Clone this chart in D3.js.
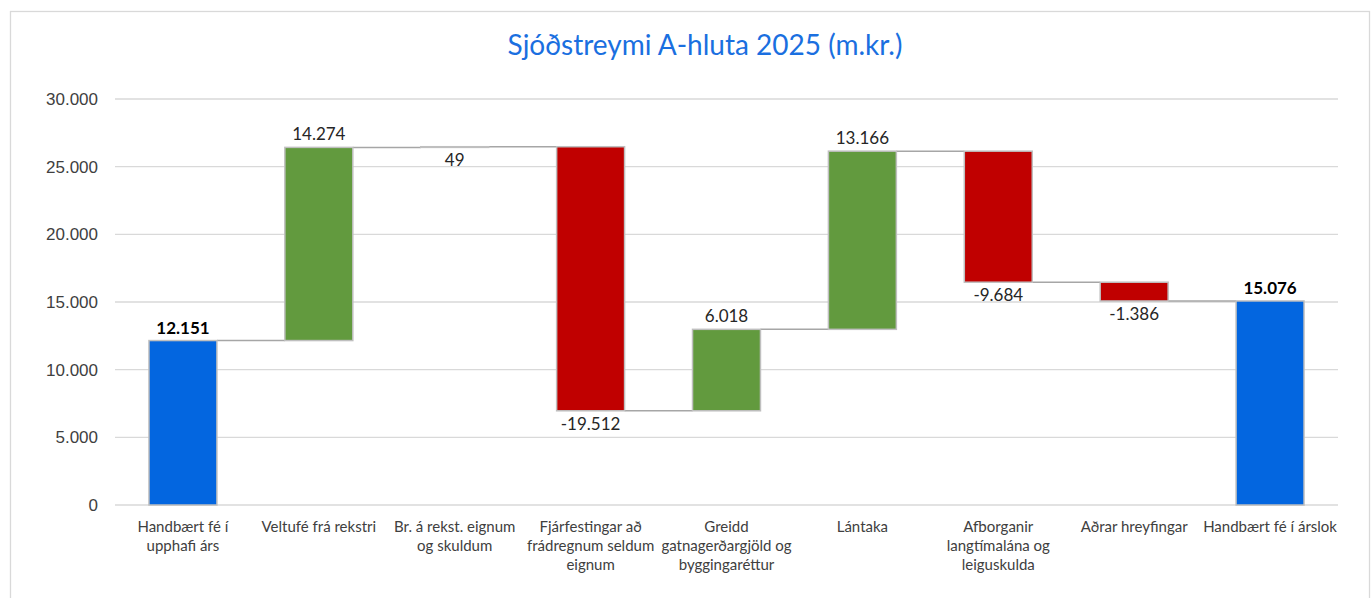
<!DOCTYPE html>
<html>
<head>
<meta charset="utf-8">
<script src="https://cdn.jsdelivr.net/npm/d3@7"></script>
<style>
  body { margin: 0; background: #fff; }
  svg { font-family: Lato, 'Open Sans', sans-serif; }
  .axis text { fill: #404040; font-size: 17px; }
  .grid line { stroke: #d9d9d9; stroke-width: 1.3px; }
  .cat text { fill: #404040; font-size: 15px; }
  .val { fill: #262626; font-size: 17px; }
</style>
</head>
<body>
<div id="chart"></div>
<script>
// chart data
var categories = [
  ['Handbært fé í', 'upphafi árs'],
  ['Veltufé frá rekstri'],
  ['Br. á rekst. eignum', 'og skuldum'],
  ['Fjárfestingar að', 'frádregnum seldum', 'eignum'],
  ['Greidd', 'gatnagerðargjöld og', 'byggingaréttur'],
  ['Lántaka'],
  ['Afborganir', 'langtímalána og', 'leiguskulda'],
  ['Aðrar hreyfingar'],
  ['Handbært fé í árslok']
];
var values = [12151, 14274, 49, -19512, 6018, 13166, -9684, -1386, 15076];
var isTotal = [true, false, false, false, false, false, false, false, true];
var yTicks = [0, 5000, 10000, 15000, 20000, 25000, 30000];
var title = 'Sjóðstreymi A-hluta 2025 (m.kr.)';

var W = 1371, H = 598;
var margin = { top: 99, right: 33, bottom: 93, left: 115 },
  w = W - margin.left - margin.right,
  h = H - margin.top - margin.bottom;

// running totals for the waterfall
var run = 0;
var bars = values.map(function(v, i) {
  var d = { i: i, value: v, total: isTotal[i] };
  if (d.total) { d.start = 0; d.end = v; run = v; }
  else { d.start = run; d.end = run + v; run = d.end; }
  return d;
});

var x = d3.scaleBand().domain(d3.range(categories.length)).range([0, w])
  .paddingInner(0.5).paddingOuter(0.25);
var y = d3.scaleLinear().domain([0, 30000]).range([h, 0]);
// icelandic style: dot as thousands separator, plain hyphen for minus
var fmt = function(v) { return d3.format(',')(v).replace(/,/g, '.').replace('\u2212', '-'); };

var svg = d3.select('#chart').append('svg')
  .attr('width', W).attr('height', H);

// outer chart border
svg.append('rect')
  .attr('x', 10.5).attr('y', 11.5)
  .attr('width', 1359).attr('height', 600)
  .attr('fill', 'none').attr('stroke', '#d9d9d9').attr('stroke-width', 1.3);

svg.append('text')
  .attr('x', 705).attr('y', 55)
  .attr('text-anchor', 'middle')
  .attr('fill', '#1a6fe0')
  .style('font-size', '28px')
  .text(title);

var g = svg.append('g')
  .attr('transform', 'translate(' + margin.left + ',' + margin.top + ')');

// gridlines
g.append('g').attr('class', 'grid')
  .selectAll('line').data(yTicks).enter().append('line')
  .attr('x1', 0).attr('x2', w)
  .attr('y1', function(d) { return y(d); })
  .attr('y2', function(d) { return y(d); });

// y axis labels
var yAxis = d3.axisLeft(y).tickValues(yTicks).tickFormat(fmt).tickSize(0).tickPadding(17);
g.append('g').attr('class', 'axis')
  .call(yAxis)
  .call(function(s) { s.select('.domain').remove(); });

// connectors between bars
g.selectAll('.conn').data(bars.slice(0, -1)).enter().append('line')
  .attr('class', 'conn')
  .attr('x1', function(d) { return x(d.i) + x.bandwidth(); })
  .attr('x2', function(d) { return x(d.i + 1); })
  .attr('y1', function(d) { return y(d.end); })
  .attr('y2', function(d) { return y(d.end); })
  .attr('stroke', '#a6a6a6').attr('stroke-width', 1.5);

// bars
g.selectAll('.bar').data(bars).enter().append('rect')
  .attr('class', 'bar')
  .attr('x', function(d) { return x(d.i); })
  .attr('width', x.bandwidth())
  .attr('y', function(d) { return y(Math.max(d.start, d.end)); })
  .attr('height', function(d) { return Math.abs(y(d.start) - y(d.end)); })
  .attr('fill', function(d) { return d.total ? '#0366e0' : (d.value >= 0 ? '#629a3e' : '#c00000'); })
  .attr('stroke', '#bfbfbf').attr('stroke-width', 1.5);

// value labels
g.selectAll('.val').data(bars).enter().append('text')
  .attr('class', 'val')
  .attr('text-anchor', 'middle')
  .attr('x', function(d) { return x(d.i) + x.bandwidth() / 2; })
  .attr('y', function(d) {
    var below = d.value < 0 || Math.abs(y(d.start) - y(d.end)) < 2;
    return below ? y(Math.min(d.start, d.end)) + 19 : y(Math.max(d.start, d.end)) - 7;
  })
  .style('font-weight', function(d) { return d.total ? 'bold' : null; })
  .style('fill', function(d) { return d.total ? '#000' : null; })
  .text(function(d) { return fmt(d.value); });

// category labels
var cat = g.append('g').attr('class', 'cat')
  .selectAll('text').data(categories).enter().append('text')
  .attr('text-anchor', 'middle')
  .attr('x', function(d, i) { return x(i) + x.bandwidth() / 2; })
  .attr('y', h + 27);
cat.selectAll('tspan').data(function(d) { return d; }).enter().append('tspan')
  .attr('x', function() { return d3.select(this.parentNode).attr('x'); })
  .attr('dy', function(d, j) { return j === 0 ? 0 : 19; })
  .text(function(d) { return d; });
</script>
</body>
</html>
